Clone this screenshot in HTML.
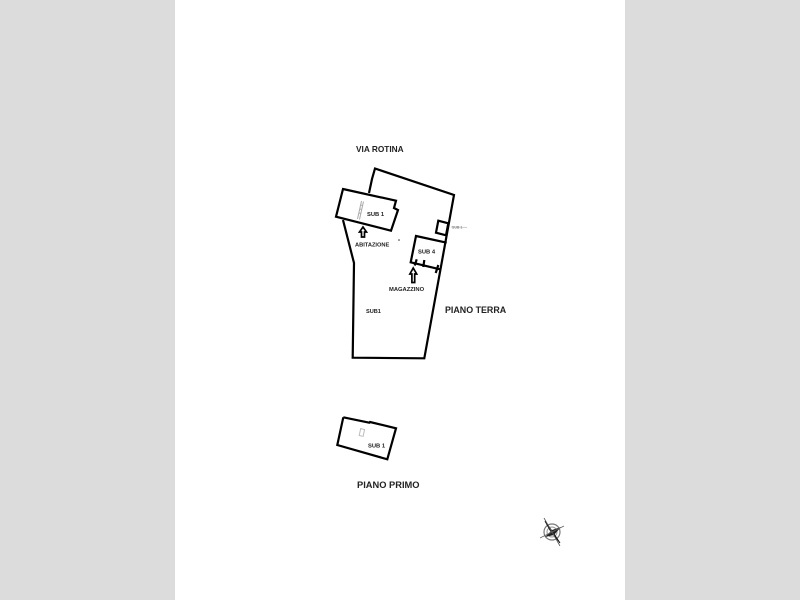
<!DOCTYPE html>
<html>
<head>
<meta charset="utf-8">
<style>
html,body{margin:0;padding:0;width:800px;height:600px;overflow:hidden;background:#dcdcdc}
svg{display:block}
text{font-family:"Liberation Sans",sans-serif;font-weight:bold;fill:#222}
</style>
</head>
<body>
<svg width="800" height="600" viewBox="0 0 800 600">
<defs><filter id="b" x="-5%" y="-5%" width="110%" height="110%"><feGaussianBlur stdDeviation="0.3"/></filter></defs>
<rect x="0" y="0" width="800" height="600" fill="#dcdcdc"/>
<rect x="175" y="0" width="450" height="600" fill="#fff"/>
<g filter="url(#b)">
<g fill="none" stroke="#000" stroke-width="2.2" stroke-linejoin="miter">
  <polyline points="369,193 372,179 375,168.5 454,195 424.3,358.3 352.7,357.7 354,263 343,220"/>
  <polygon points="343,189 396,200.7 394,208 398,210 391,230.7 336,216.7"/>
  <polygon points="438.3,220.7 448.3,223.3 446,235.3 436,232.7"/>
  <polyline points="446.7,242.7 416,236 410.7,262.3 440,269.3"/>
  <line x1="416.7" y1="259.3" x2="414.7" y2="265.5"/>
  <line x1="424.3" y1="260" x2="423.3" y2="267"/>
  <line x1="438.3" y1="265" x2="435.7" y2="273"/>
  <polyline points="343.3,417.3 369.3,422.7 370,422 396,428.3 387.3,459.3 337.3,445 343.3,417.3"/>
  <path d="M363 227l-3.5 5h2v5h3v-5h2z" stroke-width="1.7"/>
  <path d="M413.2 268l-3.3 6h2v8.5h2.8v-8.5h2z" stroke-width="1.7"/>
</g>
<g stroke="#aaa" stroke-width="1" fill="none">
  <line x1="361.5" y1="201" x2="357.5" y2="219"/>
  <line x1="363.5" y1="201.5" x2="359.5" y2="219.5"/>
  <line x1="360.5" y1="205" x2="362.8" y2="205.5"/>
  <line x1="359.6" y1="209" x2="362" y2="209.5"/>
  <line x1="358.8" y1="213" x2="361" y2="213.5"/>
  <rect x="360" y="429" width="4" height="7" transform="rotate(12 362 432)" stroke="#bbb"/>
  <line x1="451" y1="227" x2="467" y2="227.5" stroke="#ccc"/>
</g>
<text x="356" y="152" font-size="8.3">VIA ROTINA</text>
<text x="367" y="216" font-size="5.8">SUB 1</text>
<text x="355" y="246.5" font-size="5.7">ABITAZIONE</text>
<text x="418" y="253.5" font-size="5.8">SUB 4</text>
<text x="389" y="291" font-size="5.8">MAGAZZINO</text>
<text x="366" y="313" font-size="5.6">SUB1</text>
<text x="445" y="313" font-size="8.9">PIANO TERRA</text>
<text x="368" y="447.5" font-size="5.8">SUB 1</text>
<text x="357" y="488" font-size="9.3">PIANO PRIMO</text>
<text x="452" y="228.5" font-size="3.5" style="fill:#888">SUB 1</text>
<circle cx="399" cy="240" r="0.8" fill="#333"/>
<g transform="translate(552,532)">
  <circle r="8" fill="none" stroke="#777" stroke-width="1.2"/>
  <circle r="5" fill="none" stroke="#999" stroke-width="1"/>
  <polygon points="-7,-11 -2,-2 8,11 2,2" fill="#111" stroke="#111" stroke-width="1"/>
  <polygon points="-7,5 0,-2 9,-5 2,3" fill="#222"/>
  <line x1="-8" y1="-14" x2="8" y2="14" stroke="#555" stroke-width="0.8"/>
  <line x1="-12" y1="6" x2="12" y2="-6" stroke="#666" stroke-width="0.8"/>
</g>
</g>
</svg>
</body>
</html>
